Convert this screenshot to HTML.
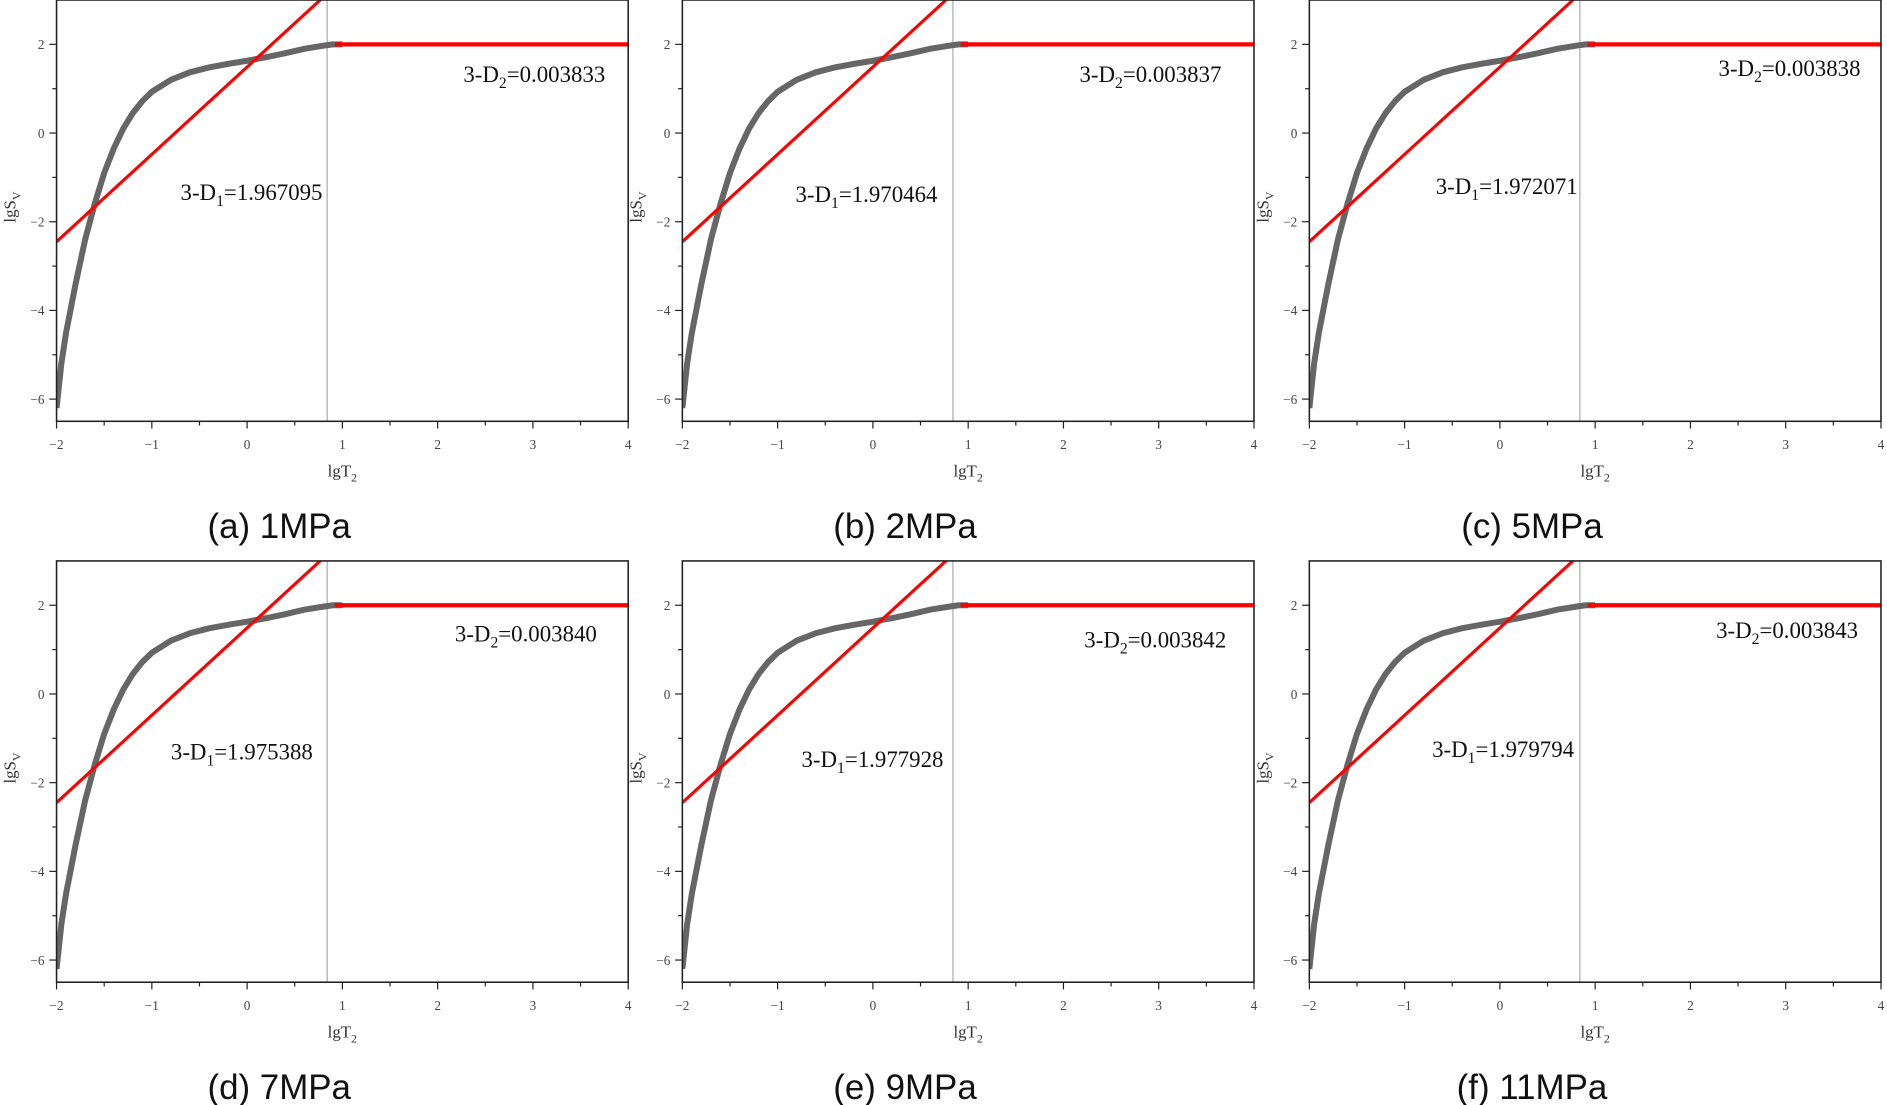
<!DOCTYPE html>
<html><head><meta charset="utf-8"><style>html,body{margin:0;padding:0;background:#fff}svg{display:block}</style></head>
<body>
<svg id="s" width="1887" height="1105" viewBox="0 0 1568 918" preserveAspectRatio="none" xmlns="http://www.w3.org/2000/svg"></svg>
<script>
const S=document.getElementById('s');
const panels=[
 {L:47,T:0,cap:"(a) 1MPa",d1:"1.967095",d2:"0.003833",a1:[103,160],a2:[338,62]},
 {L:567,T:0,cap:"(b) 2MPa",d1:"1.970464",d2:"0.003837",a1:[94,162],a2:[330,62]},
 {L:1088,T:0,cap:"(c) 5MPa",d1:"1.972071",d2:"0.003838",a1:[105,155],a2:[340,57]},
 {L:47,T:466,cap:"(d) 7MPa",d1:"1.975388",d2:"0.003840",a1:[95,159],a2:[331,61]},
 {L:567,T:466,cap:"(e) 9MPa",d1:"1.977928",d2:"0.003842",a1:[99,165],a2:[334,66]},
 {L:1088,T:466,cap:"(f) 11MPa",d1:"1.979794",d2:"0.003843",a1:[102,157],a2:[338,58]}
];
const curve=[[-2,-6.2],[-1.95,-5.2],[-1.9,-4.5],[-1.8,-3.4],[-1.7,-2.4],[-1.6,-1.6],[-1.5,-0.9],[-1.4,-0.35],[-1.3,0.1],[-1.2,0.45],[-1.1,0.72],[-1,0.93],[-0.8,1.2],[-0.6,1.37],[-0.4,1.48],[-0.2,1.56],[0,1.63],[0.2,1.71],[0.4,1.8],[0.6,1.9],[0.8,1.97],[0.9,2],[1,2]];
let h='';
const W=475,H=350;
for(const p of panels){
 const X=v=>p.L+(v+2)/6*W, Y=v=>p.T+(3-v)/9.5*H;
 h+=`<defs><clipPath id="c${p.L}_${p.T}"><rect x="${p.L}" y="${p.T}" width="${W}" height="${H}"/></clipPath></defs>`;
 h+=`<g clip-path="url(#c${p.L}_${p.T})">`;
 h+=`<line x1="${X(0.84)}" y1="${p.T}" x2="${X(0.84)}" y2="${p.T+H}" stroke="#aaa" stroke-width="1"/>`;
 h+=`<polyline fill="none" stroke="#666" stroke-width="5" points="${curve.map(c=>X(c[0])+','+Y(c[1])).join(' ')}"/>`;
 h+=`<line x1="${X(-2)}" y1="${Y(-2.45)}" x2="${X(1)}" y2="${Y(-2.45+3*1.97)}" stroke="#f00" stroke-width="2.6"/>`;
 h+=`<line x1="${X(0.92)}" y1="${Y(2)}" x2="${X(4)}" y2="${Y(2)}" stroke="#f00" stroke-width="3.5"/>`;
 h+=`</g>`;
 h+=`<rect x="${p.L}" y="${p.T}" width="${W}" height="${H}" fill="none" stroke="#222" stroke-width="1.3"/>`;
 for(let v=-2;v<=4;v+=0.5){const x=X(v),maj=Number.isInteger(v);
  h+=`<line x1="${x}" y1="${p.T+H}" x2="${x}" y2="${p.T+H+(maj?6:3.5)}" stroke="#222" stroke-width="1"/>`;
  if(maj)h+=`<text x="${x}" y="${p.T+H+23}" font-size="11" text-anchor="middle" fill="#444" font-family="Liberation Serif,serif">${v<0?'−'+(-v):v}</text>`;}
 for(let v=-6;v<=2;v+=1){const y=Y(v),maj=v%2===0;
  h+=`<line x1="${p.L}" y1="${y}" x2="${p.L-(maj?6:3.5)}" y2="${y}" stroke="#222" stroke-width="1"/>`;
  if(maj)h+=`<text x="${p.L-10}" y="${y+4}" font-size="11" text-anchor="end" fill="#444" font-family="Liberation Serif,serif">${v<0?'−'+(-v):v}</text>`;}
 h+=`<text x="${p.L+W/2}" y="${p.T+396}" font-size="14" text-anchor="middle" fill="#333" font-family="Liberation Serif,serif">lgT<tspan font-size="10" dy="4">2</tspan></text>`;
 h+=`<text transform="translate(${p.L-34},${p.T+172}) rotate(-90)" font-size="14" text-anchor="middle" fill="#333" font-family="Liberation Serif,serif">lgS<tspan font-size="10" dy="4">V</tspan></text>`;
 h+=`<text x="${p.L+p.a1[0]}" y="${p.T+p.a1[1]+6}" font-size="19" text-anchor="start" fill="#111" font-family="Liberation Serif,serif">3-D<tspan font-size="13" dy="5">1</tspan><tspan dy="-5">=${p.d1}</tspan></text>`;
 h+=`<text x="${p.L+p.a2[0]}" y="${p.T+p.a2[1]+6}" font-size="19" text-anchor="start" fill="#111" font-family="Liberation Serif,serif">3-D<tspan font-size="13" dy="5">2</tspan><tspan dy="-5">=${p.d2}</tspan></text>`;
 h+=`<text x="${p.L+185}" y="${p.T+447}" font-size="29" text-anchor="middle" fill="#111" font-family="Liberation Sans,sans-serif">${p.cap}</text>`;
}
S.innerHTML=h;
</script>
</body></html>
